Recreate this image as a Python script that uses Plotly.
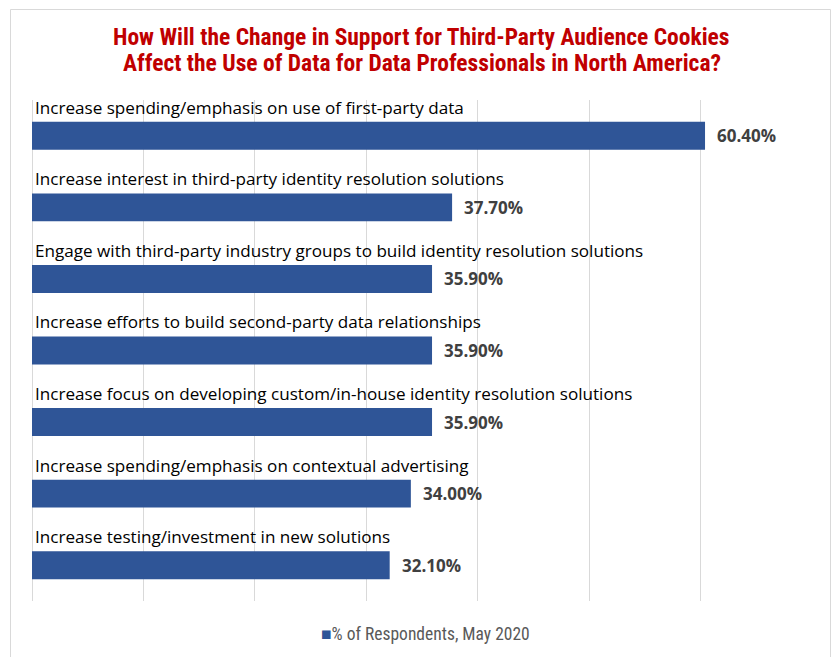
import plotly.graph_objects as go

categories = [
    "Increase spending/emphasis on use of first-party data",
    "Increase interest in third-party identity resolution solutions",
    "Engage with third-party industry groups to build identity resolution solutions",
    "Increase efforts to build second-party data relationships",
    "Increase focus on developing custom/in-house identity resolution solutions",
    "Increase spending/emphasis on contextual advertising",
    "Increase testing/investment in new solutions",
]
values = [60.4, 37.7, 35.9, 35.9, 35.9, 34.0, 32.1]
series_name = "% of Respondents, May 2020"
title_lines = [
    "How Will the Change in Support for Third-Party Audience Cookies",
    "Affect the Use of Data for Data Professionals in North America?",
]

W, H = 834, 657
ML, MR, MT, MB = 32, 22, 100, 56
PW, PH = W - ML - MR, H - MT - MB

def px_x(px):
    return (px - ML) / PW

def px_y(py):
    return (H - MB - py) / PH

idx = list(range(len(categories)))
BLUE = "#2F5597"
COND = "Roboto Condensed, Lato, sans-serif"

fig = go.Figure()
fig.add_trace(go.Bar(
    x=values, y=idx, orientation="h", width=0.39,
    marker=dict(color=BLUE, line=dict(width=0)),
    name=series_name, showlegend=False, hoverinfo="skip",
))

annotations = []
for i, (c, v) in enumerate(zip(categories, values)):
    annotations.append(dict(
        x=0, y=i - 0.40, xref="x", yref="y", text=c, showarrow=False,
        xanchor="left", yanchor="middle", xshift=1,
        font=dict(family="Open Sans", size=17.1, color="#000000"),
    ))
    annotations.append(dict(
        x=v, y=i, xref="x", yref="y", text=f"{v:.2f}%", showarrow=False,
        xanchor="left", yanchor="middle", xshift=10,
        font=dict(family="Open Sans", size=17, color="#404040", weight="bold"),
    ))

# title lines
for line, cy in zip(title_lines, [37, 63]):
    annotations.append(dict(
        x=px_x(421.5), y=px_y(cy), xref="paper", yref="paper", showarrow=False,
        xanchor="center", yanchor="middle", text=line,
        font=dict(family=COND, size=23.5, color="#C00000", weight="bold"),
    ))

# legend drawn as text
annotations.append(dict(
    x=px_x(425), y=px_y(634), xref="paper", yref="paper", showarrow=False,
    xanchor="center", yanchor="middle",
    text=f"<span style='color:{BLUE}'>■</span>{series_name}",
    font=dict(family=COND, size=17.5, color="#595959"),
))

fig.update_layout(
    width=W, height=H,
    margin=dict(l=ML, r=MR, t=MT, b=MB),
    paper_bgcolor="white", plot_bgcolor="white",
    xaxis=dict(
        range=[0, 70], dtick=10, showgrid=True, gridcolor="#D9D9D9", gridwidth=1,
        showticklabels=False, zeroline=True, zerolinecolor="#D9D9D9", zerolinewidth=1,
        showline=False, ticks="", fixedrange=True,
    ),
    yaxis=dict(
        range=[len(categories) - 0.5, -0.5], showticklabels=False, showgrid=False,
        zeroline=False, showline=False, ticks="", fixedrange=True,
    ),
    showlegend=False,
    annotations=annotations,
    shapes=[dict(
        type="rect", xref="paper", yref="paper",
        x0=px_x(10.5), x1=px_x(830.5), y0=px_y(680), y1=px_y(9.5),
        line=dict(color="#D9D9D9", width=1), fillcolor="rgba(0,0,0,0)", layer="below",
    )],
)

fig.write_html("out.html")
